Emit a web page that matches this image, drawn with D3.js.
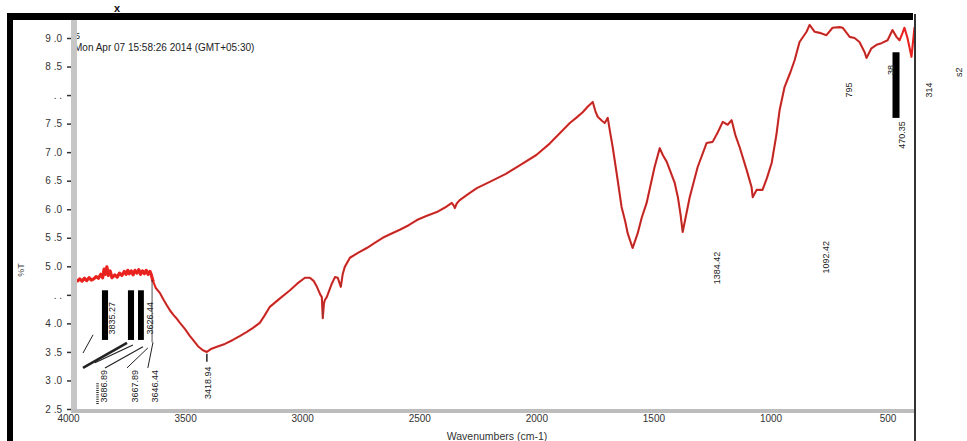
<!DOCTYPE html>
<html><head><meta charset="utf-8">
<script src="https://cdn.jsdelivr.net/npm/d3@7"></script>
<style>
body{margin:0;background:#fff}
svg{display:block}
text{font-family:Arial,"Liberation Sans",sans-serif}
</style>
</head><body>
<svg id="c" width="967" height="441"></svg>
<script>
// ---- data ----
const wavenumbers = [3962,3950,3940,3930,3920,3910,3900,3890,3880,3870,3860,3852,3846,3840,3834,3828,3820,3812,3800,3790,3780,3770,3760,3752,3745,3738,3730,3722,3714,3706,3698,3690,3682,3674,3666,3658,3650,3644,3640,3636,3625,3607,3590,3580,3565,3550,3535,3522,3500,3480,3466,3445,3424,3407,3390,3364,3330,3296,3265,3236,3210,3181,3160,3138,3100,3052,3020,2988,2967,2950,2937,2922,2916,2912,2907,2903,2895,2875,2860,2848,2840,2835,2827,2818,2796,2760,2724,2690,2656,2620,2583,2545,2510,2470,2425,2390,2361,2352,2348,2340,2327,2290,2254,2199,2130,2071,2000,1943,1900,1857,1830,1802,1780,1759,1748,1738,1720,1708,1695,1685,1674,1657,1636,1620,1610,1589,1567,1550,1529,1495,1473,1460,1443,1409,1395,1384,1375,1345,1311,1273,1247,1225,1204,1183,1166,1150,1132,1102,1081,1076,1059,1034,1015,995,975,961,940,915,897,876,846,833,812,790,761,735,705,692,662,641,620,598,590,569,547,526,500,479,462,449,436,428,415,398,385];
const transmittance = [4.73,4.78,4.74,4.79,4.75,4.80,4.76,4.78,4.82,4.79,4.86,4.80,4.95,4.86,4.99,4.84,4.92,4.80,4.85,4.81,4.88,4.84,4.91,4.86,4.93,4.87,4.92,4.85,4.93,4.88,4.94,4.86,4.92,4.87,4.93,4.86,4.91,4.85,4.78,4.73,4.62,4.53,4.40,4.33,4.23,4.15,4.08,4.01,3.90,3.78,3.71,3.60,3.53,3.50,3.55,3.59,3.64,3.71,3.78,3.85,3.92,4.01,4.14,4.29,4.42,4.58,4.70,4.80,4.80,4.74,4.64,4.50,4.46,4.09,4.35,4.41,4.46,4.68,4.81,4.80,4.70,4.64,4.86,4.99,5.15,5.24,5.32,5.41,5.50,5.57,5.64,5.72,5.81,5.88,5.95,6.03,6.11,6.06,6.02,6.10,6.16,6.27,6.37,6.48,6.62,6.77,6.95,7.15,7.33,7.51,7.60,7.70,7.80,7.88,7.72,7.62,7.55,7.51,7.60,7.35,7.09,6.63,6.04,5.78,5.58,5.32,5.58,5.85,6.11,6.74,7.07,6.95,6.83,6.46,6.20,5.90,5.60,6.21,6.74,7.16,7.18,7.35,7.53,7.48,7.56,7.30,7.09,6.69,6.39,6.21,6.34,6.34,6.55,6.81,7.30,7.74,8.14,8.40,8.61,8.93,9.11,9.23,9.11,9.09,9.05,9.18,9.19,9.18,9.02,9.00,8.93,8.75,8.65,8.82,8.88,8.91,8.96,9.14,9.02,8.96,9.09,9.18,9.00,8.67,9.19];

const yTickValues = [9.0,8.5,8.0,7.5,7.0,6.5,6.0,5.5,5.0,4.5,4.0,3.5,3.0,2.5];
const yTickLabels = ["9 .0","8 .5",". .","7 .5","7 .0","6 .5","6 .0","5 .5","5 .0",". .","4 .0","3 .5","3 .0","2 .5"];
const xTickValues = [4000,3500,3000,2500,2000,1500,1000,500];
const xTickLabels = ["4000","3500","3000","2500","2000","1500","1000","500"];

// peak annotations (rotated text) : label, wavenumber position, %T position
const peakLabels = ["3418.94","3686.89","3667.89","3646.44","3835.27","3626.44","1384.42","1092.42","470.35","38","795","314","s2"];
const peakLabelWn = [3402,3848,3716,3627,3812,3650,1230,765,440,487,663,321,193];
const peakLabelT  = [2.96,2.90,2.90,2.90,4.09,4.09,4.97,5.16,7.30,8.44,8.09,8.09,8.40];

// black label bars: wavenumber from/to, %T from/to
const barWnFrom = [3855,3744,3701,479];
const barWnTo   = [3829,3718,3676,449];
const barTTop   = [4.58,4.58,4.58,8.75];
const barTBot   = [3.71,3.71,3.71,7.60];

// leader lines
const leadWn1 = [3936,3936,3885,3842,3748,3659,3641,3407];
const leadT1  = [3.48,3.22,3.31,3.22,3.22,3.22,4.76,3.47];
const leadWn2 = [3893,3748,3723,3680,3659,3637,3641,3407];
const leadT2  = [3.80,3.66,3.62,3.59,3.57,3.67,3.67,3.33];
const leadW   = [1,2.5,1.2,1.2,1,1,0.8,1.5];

// ---- drawing ----
const svg = d3.select("#c");
const x = d3.scaleLinear().domain([4000,400]).range([68,911]);
const y = d3.scaleLinear().domain([2.5,9.0]).range([409,38]);

svg.append("defs").append("clipPath").attr("id","pc")
  .append("rect").attr("x",77).attr("y",20).attr("width",838).attr("height",389);

const pts = wavenumbers.map((w,i)=>[w,transmittance[i]]);
const line = d3.line().x(d=>x(d[0])).y(d=>y(d[1]));
const g = svg.append("g").attr("clip-path","url(#pc)");
g.append("path").datum(pts.filter(d=>d[0]>=3630)).attr("d",line).attr("fill","none")
  .attr("stroke","#ee2a24").attr("stroke-width",3.2).attr("stroke-linejoin","round");
g.append("path").datum(pts).attr("d",line).attr("fill","none")
  .attr("stroke","#e8231f").attr("stroke-width",2.1).attr("stroke-linejoin","round");
g.append("path").datum(pts.filter(d=>d[0]<3630 && d[0]>440)).attr("d",line).attr("fill","none")
  .attr("stroke","#6b3b38").attr("stroke-width",0.8).attr("stroke-opacity",0.7);

// date stamp
svg.append("text").attr("x",74).attr("y",51).attr("font-size",10).attr("fill","#222")
  .text("Mon Apr 07 15:58:26 2014 (GMT+05:30)");
svg.append("text").attr("x",75).attr("y",39).attr("font-size",9).attr("fill","#222").text("5");

// plot frame (grey)
svg.append("rect").attr("x",71).attr("y",20).attr("width",6).attr("height",393).attr("fill","#c6c6c6");
svg.append("rect").attr("x",71).attr("y",409).attr("width",843).attr("height",4).attr("fill","#bdbdbd");

// y axis
const ya = d3.axisLeft(y).tickValues(yTickValues).tickSize(4).tickPadding(5)
  .tickFormat((d,i)=>yTickLabels[i]);
const yg = svg.append("g").attr("transform","translate(71,0)").call(ya);
yg.select(".domain").remove();
yg.selectAll("line").attr("stroke","#333").attr("stroke-width",1.5);
yg.selectAll("text").attr("font-size",10).attr("fill","#333").attr("font-family","Arial,'Liberation Sans',sans-serif");

// x axis
const xa = d3.axisBottom(x).tickValues(xTickValues).tickSize(0).tickPadding(2)
  .tickFormat((d,i)=>xTickLabels[i]);
const xg = svg.append("g").attr("transform","translate(0,413)").call(xa);
xg.select(".domain").remove();
xg.selectAll("text").attr("font-size",10).attr("fill","#333").attr("font-family","Arial,'Liberation Sans',sans-serif");

// axis titles
svg.append("text").attr("x",497).attr("y",440).attr("text-anchor","middle")
  .attr("font-size",10.5).attr("fill","#333").text("Wavenumbers (cm-1)");
svg.append("text").attr("transform","translate(24,270) rotate(-90)").attr("text-anchor","middle")
  .attr("font-size",9).attr("fill","#444").text("%T");

// black bars
svg.selectAll("rect.bar").data(barWnFrom).enter().append("rect").attr("class","bar")
  .attr("x",(d,i)=>x(d)).attr("width",(d,i)=>x(barWnTo[i])-x(d))
  .attr("y",(d,i)=>y(barTTop[i])).attr("height",(d,i)=>y(barTBot[i])-y(barTTop[i]))
  .attr("fill","#000");

// leader lines
svg.selectAll("line.lead").data(leadWn1).enter().append("line").attr("class","lead")
  .attr("x1",d=>x(d)).attr("y1",(d,i)=>y(leadT1[i]))
  .attr("x2",(d,i)=>x(leadWn2[i])).attr("y2",(d,i)=>y(leadT2[i]))
  .attr("stroke","#222").attr("stroke-width",(d,i)=>leadW[i]);
svg.append("line").attr("x1",x(3874)).attr("x2",x(3874)).attr("y1",y(2.95)).attr("y2",y(2.58))
  .attr("stroke","#333").attr("stroke-width",2.5).attr("stroke-dasharray","1,1.2");

// peak labels
svg.selectAll("text.pk").data(peakLabels).enter().append("text").attr("class","pk")
  .attr("transform",(d,i)=>`translate(${x(peakLabelWn[i])+3},${y(peakLabelT[i])}) rotate(-90)`)
  .attr("text-anchor","middle").attr("font-size",9).attr("fill","#222").text(d=>d);

// outer black frame
svg.append("rect").attr("x",7).attr("y",13).attr("width",906).attr("height",7).attr("fill","#000");
svg.append("rect").attr("x",7).attr("y",13).attr("width",6).attr("height",428).attr("fill","#000");
svg.append("rect").attr("x",914).attr("y",14).attr("width",2).attr("height",427).attr("fill","#333");
svg.append("text").attr("x",114).attr("y",12).attr("font-size",11).attr("font-weight","bold").attr("fill","#111").text("x");
</script>
</body></html>
